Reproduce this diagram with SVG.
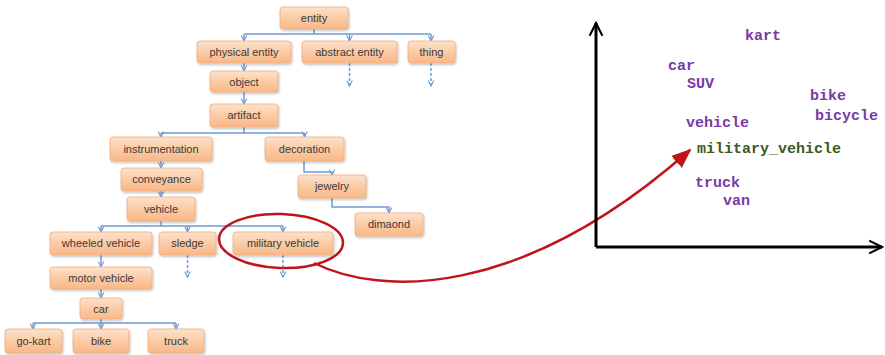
<svg xmlns="http://www.w3.org/2000/svg" width="885" height="355" viewBox="0 0 885 355">
<defs>
<linearGradient id="g" x1="0" y1="0" x2="0" y2="1">
<stop offset="0" stop-color="#fde2cc"/>
<stop offset="0.5" stop-color="#fbcba4"/>
<stop offset="1" stop-color="#f8b889"/>
</linearGradient>
<marker id="ba" viewBox="0 0 10 10" refX="9" refY="5" markerWidth="7" markerHeight="7" orient="auto" markerUnits="userSpaceOnUse">
<path d="M1,1 L9,5 L1,9" fill="none" stroke="#6f9bd6" stroke-width="1.6"/>
</marker>
<marker id="ax" viewBox="0 0 20 20" refX="18" refY="10" markerWidth="16" markerHeight="16" orient="auto" markerUnits="userSpaceOnUse">
<path d="M2,2 L18,10 L2,18" fill="none" stroke="#000" stroke-width="2.6"/>
</marker>
<marker id="ra" viewBox="0 0 20 20" refX="18" refY="10" markerWidth="20" markerHeight="20" orient="auto" markerUnits="userSpaceOnUse">
<path d="M0,2 L20,10 L0,18 Z" fill="#c0141c"/>
</marker>
<filter id="sh" x="-10%" y="-10%" width="130%" height="150%">
<feDropShadow dx="1" dy="1.5" stdDeviation="1" flood-color="#000" flood-opacity="0.25"/>
</filter>
</defs>
<style>
.n rect{fill:url(#g);stroke:#f2ac7c;stroke-width:0.8;filter:url(#sh)}
.n text{font-family:"Liberation Sans",Arial,sans-serif;font-size:11px;fill:#3a3a3a;text-anchor:middle}
.c{fill:none;stroke:#6f9bd6;stroke-width:1.5}
.d{fill:none;stroke:#6f9bd6;stroke-width:1.5;stroke-dasharray:3,2}
.w{font-family:"Liberation Mono","Courier New",monospace;font-size:15px;font-weight:bold;fill:#7a3aa8}
.m{font-family:"Liberation Mono","Courier New",monospace;font-size:15px;font-weight:bold;fill:#3d5a1e}
</style>
<rect width="885" height="355" fill="#fff"/>
<g id="connectors">
<path class="c" d="M314,29 V34 M244,34 H431"/>
<path class="c" marker-end="url(#ba)" d="M244,34 V41"/>
<path class="c" marker-end="url(#ba)" d="M349.5,34 V41"/>
<path class="c" marker-end="url(#ba)" d="M431,34 V41"/>
<path class="d" marker-end="url(#ba)" d="M349.5,63 V86"/>
<path class="d" marker-end="url(#ba)" d="M431,63 V86"/>
<path class="c" marker-end="url(#ba)" d="M244,63 V71"/>
<path class="c" marker-end="url(#ba)" d="M244,92 V104"/>
<path class="c" d="M244,127 V133 M161,133 H304.5"/>
<path class="c" marker-end="url(#ba)" d="M161,133 V137"/>
<path class="c" marker-end="url(#ba)" d="M304.5,133 V137"/>
<path class="c" marker-end="url(#ba)" d="M161,161 V168"/>
<path class="c" marker-end="url(#ba)" d="M304,161 V172 H332 V175"/>
<path class="c" marker-end="url(#ba)" d="M161,191 V197"/>
<path class="c" marker-end="url(#ba)" d="M332,198 V207 H389 V213"/>
<path class="c" d="M161,221 V226 M101,226 H283"/>
<path class="c" marker-end="url(#ba)" d="M101,226 V232"/>
<path class="c" marker-end="url(#ba)" d="M187.5,226 V232"/>
<path class="c" marker-end="url(#ba)" d="M283,226 V232"/>
<path class="d" marker-end="url(#ba)" d="M187.5,255 V277"/>
<path class="d" marker-end="url(#ba)" d="M283,255 V277"/>
<path class="c" marker-end="url(#ba)" d="M101,255 V267"/>
<path class="c" marker-end="url(#ba)" d="M101,289 V298"/>
<path class="c" d="M101,319 V323 M33,323 H176"/>
<path class="c" marker-end="url(#ba)" d="M33,323 V329"/>
<path class="c" marker-end="url(#ba)" d="M101,323 V329"/>
<path class="c" marker-end="url(#ba)" d="M176,323 V329"/>
</g>
<g id="entity" class="n"><rect x="280" y="7" width="68" height="22" rx="3"/><text x="314" y="22">entity</text></g>
<g id="physical-entity" class="n"><rect x="197" y="41" width="94" height="22" rx="3"/><text x="244" y="56">physical entity</text></g>
<g id="abstract-entity" class="n"><rect x="302" y="41" width="95" height="22" rx="3"/><text x="349.5" y="56">abstract entity</text></g>
<g id="thing" class="n"><rect x="408" y="41" width="47" height="22" rx="3"/><text x="431.5" y="56">thing</text></g>
<g id="object" class="n"><rect x="210" y="71" width="68" height="21" rx="3"/><text x="244" y="86">object</text></g>
<g id="artifact" class="n"><rect x="210" y="104" width="68" height="23" rx="3"/><text x="244" y="119">artifact</text></g>
<g id="instrumentation" class="n"><rect x="110" y="137" width="102" height="24" rx="3"/><text x="161" y="153">instrumentation</text></g>
<g id="decoration" class="n"><rect x="265" y="137" width="79" height="24" rx="3"/><text x="304.5" y="153">decoration</text></g>
<g id="conveyance" class="n"><rect x="121" y="168" width="81" height="23" rx="3"/><text x="161.5" y="183">conveyance</text></g>
<g id="jewelry" class="n"><rect x="298" y="175" width="68" height="23" rx="3"/><text x="332" y="190">jewelry</text></g>
<g id="dimaond" class="n"><rect x="355" y="213" width="68" height="23" rx="3"/><text x="389" y="228">dimaond</text></g>
<g id="vehicle" class="n"><rect x="127" y="197" width="68" height="24" rx="3"/><text x="161" y="213">vehicle</text></g>
<g id="wheeled-vehicle" class="n"><rect x="50" y="232" width="102" height="23" rx="3"/><text x="101" y="247">wheeled vehicle</text></g>
<g id="sledge" class="n"><rect x="159" y="232" width="57" height="23" rx="3"/><text x="187.5" y="247">sledge</text></g>
<g id="military-vehicle" class="n"><rect x="233" y="232" width="100" height="23" rx="3"/><text x="283" y="247">military vehicle</text></g>
<g id="motor-vehicle" class="n"><rect x="50" y="267" width="102" height="22" rx="3"/><text x="101" y="282">motor vehicle</text></g>
<g id="car" class="n"><rect x="80" y="298" width="42" height="21" rx="3"/><text x="101" y="313">car</text></g>
<g id="go-kart" class="n"><rect x="5" y="329" width="57" height="24" rx="3"/><text x="33.5" y="345">go-kart</text></g>
<g id="bike" class="n"><rect x="73" y="329" width="56" height="24" rx="3"/><text x="101" y="345">bike</text></g>
<g id="truck" class="n"><rect x="148" y="329" width="56" height="24" rx="3"/><text x="176" y="345">truck</text></g>
<g id="highlight">
<ellipse cx="281" cy="241" rx="62" ry="27" fill="none" stroke="#c0141c" stroke-width="2.5" transform="rotate(2 281 241)"/>
<path d="M314,263 C380,296 520,300 690,150" fill="none" stroke="#c0141c" stroke-width="2.5" marker-end="url(#ra)"/>
</g>
<g id="axes">
<path d="M596,247 V23" fill="none" stroke="#000" stroke-width="3" marker-end="url(#ax)"/>
<path d="M596,247 H882" fill="none" stroke="#000" stroke-width="3" marker-end="url(#ax)"/>
</g>
<g id="words">
<text class="w" x="745" y="40">kart</text>
<text class="w" x="668" y="70">car</text>
<text class="w" x="687" y="88">SUV</text>
<text class="w" x="810" y="100">bike</text>
<text class="w" x="815" y="120">bicycle</text>
<text class="w" x="686" y="127">vehicle</text>
<text class="m" x="697" y="153">military_vehicle</text>
<text class="w" x="695" y="187">truck</text>
<text class="w" x="723" y="205">van</text>
</g>
</svg>
